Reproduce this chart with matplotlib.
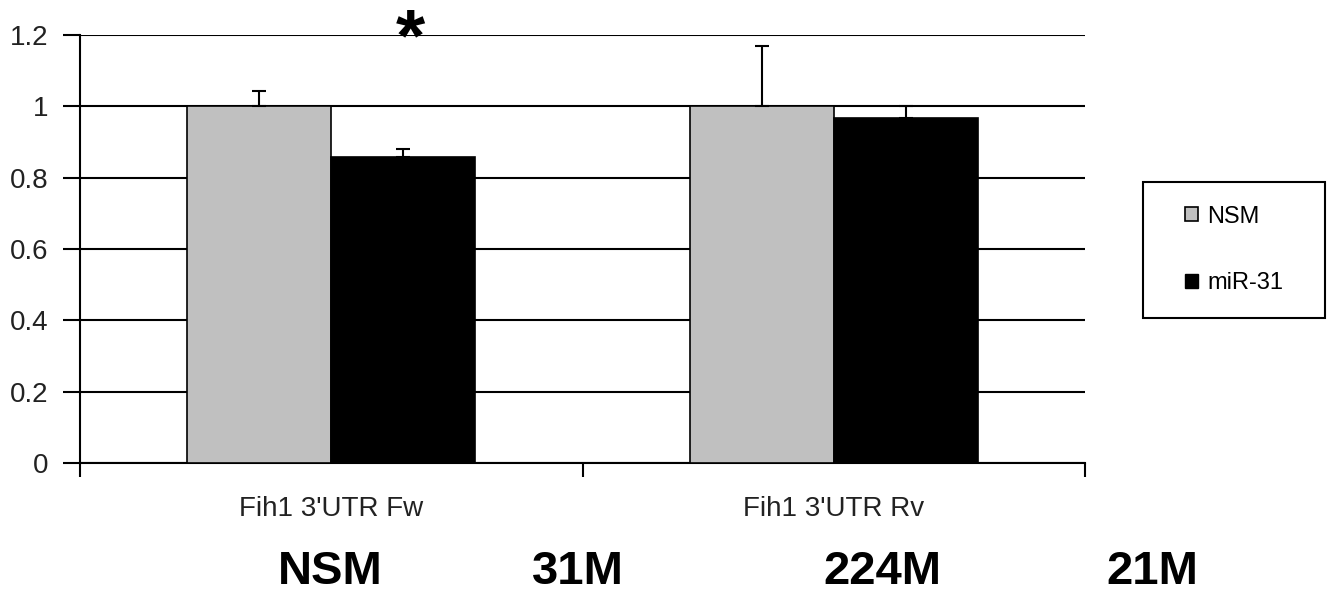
import numpy as np
import matplotlib.pyplot as plt
from matplotlib.patches import Patch, Rectangle

plt.rcParams['font.family'] = ['Liberation Sans', 'DejaVu Sans']

groups = ["Fih1 3'UTR Fw", "Fih1 3'UTR Rv"]
series = ['NSM', 'miR-31']
nsm_vals = [1.0, 1.0]
nsm_err = [0.043, 0.17]
mir_vals = [0.858, 0.967]
mir_err = [0.022, 0.035]
yticks = [0, 0.2, 0.4, 0.6, 0.8, 1, 1.2]
ytick_labels = ['0', '0.2', '0.4', '0.6', '0.8', '1', '1.2']
bottom_labels = ['NSM', '31M', '224M', '21M']
bottom_x = [330, 578, 882, 1152]  # pixel centres in the figure

W, H = 1332, 596
fig = plt.figure(figsize=(W / 100, H / 100), dpi=100)
ax = fig.add_axes([80 / W, 1 - 463 / H, (1085 - 80) / W, (463 - 35) / H])

x = np.arange(len(groups))
w = 0.287
err_kw = dict(ecolor='black', elinewidth=1.5, capsize=4.7, capthick=1.5)
ax.bar(x - w / 2, nsm_vals, w, color='#c0c0c0', edgecolor='black', linewidth=1.2,
       yerr=[np.zeros(2), nsm_err], error_kw=err_kw, label=series[0], zorder=3)
ax.bar(x + w / 2, mir_vals, w, color='black', edgecolor='black', linewidth=1.2,
       yerr=[np.zeros(2), mir_err], error_kw=err_kw, label=series[1], zorder=3)

# significance mark
ax.text(x[0] + w / 2 + 0.014, 1.185, '*', ha='center', va='center', fontsize=54,
        fontweight='bold', clip_on=False)

ax.set_xlim(-0.5, 1.5)
ax.set_ylim(0, 1.2)
ax.set_yticks(yticks)
ax.set_yticklabels(ytick_labels)
ax.yaxis.grid(True, color='black', linewidth=1.5)
ax.set_axisbelow(True)
for s in ['top', 'right']:
    ax.spines[s].set_visible(False)
for s in ['left', 'bottom']:
    ax.spines[s].set_linewidth(1.5)

ax.set_xticks([-0.5, 0.5, 1.5])
ax.set_xticklabels([])
ax.set_xticks(x, minor=True)
ax.set_xticklabels(groups, minor=True)
ax.tick_params(axis='x', which='minor', length=0, pad=24, labelsize=20, labelcolor='#222222')
ax.tick_params(axis='x', which='major', length=10, width=1.5)
ax.tick_params(axis='y', length=12, width=1.5, pad=11, labelsize=20, labelcolor='#222222')

handles = [Patch(facecolor='#c0c0c0', edgecolor='black', linewidth=1.2),
           Patch(facecolor='black', edgecolor='black')]
fig.legend(handles, series, loc='center', frameon=False, fontsize=17,
           bbox_to_anchor=((1143 + 1325) / 2 / W, 1 - 250 / H),
           handlelength=0.55, handleheight=0.55, handletextpad=0.4,
           labelspacing=1.9)
fig.patches.append(Rectangle((1143 / W, 1 - 318 / H), 182 / W, 136 / H,
                             transform=fig.transFigure, fill=False,
                             edgecolor='black', linewidth=1.5))

for lab, px in zip(bottom_labels, bottom_x):
    fig.text(px / W, 1 - 572 / H, lab, ha='center', va='center',
             fontsize=34, fontweight='bold')

fig.savefig('out.png', dpi=100)
